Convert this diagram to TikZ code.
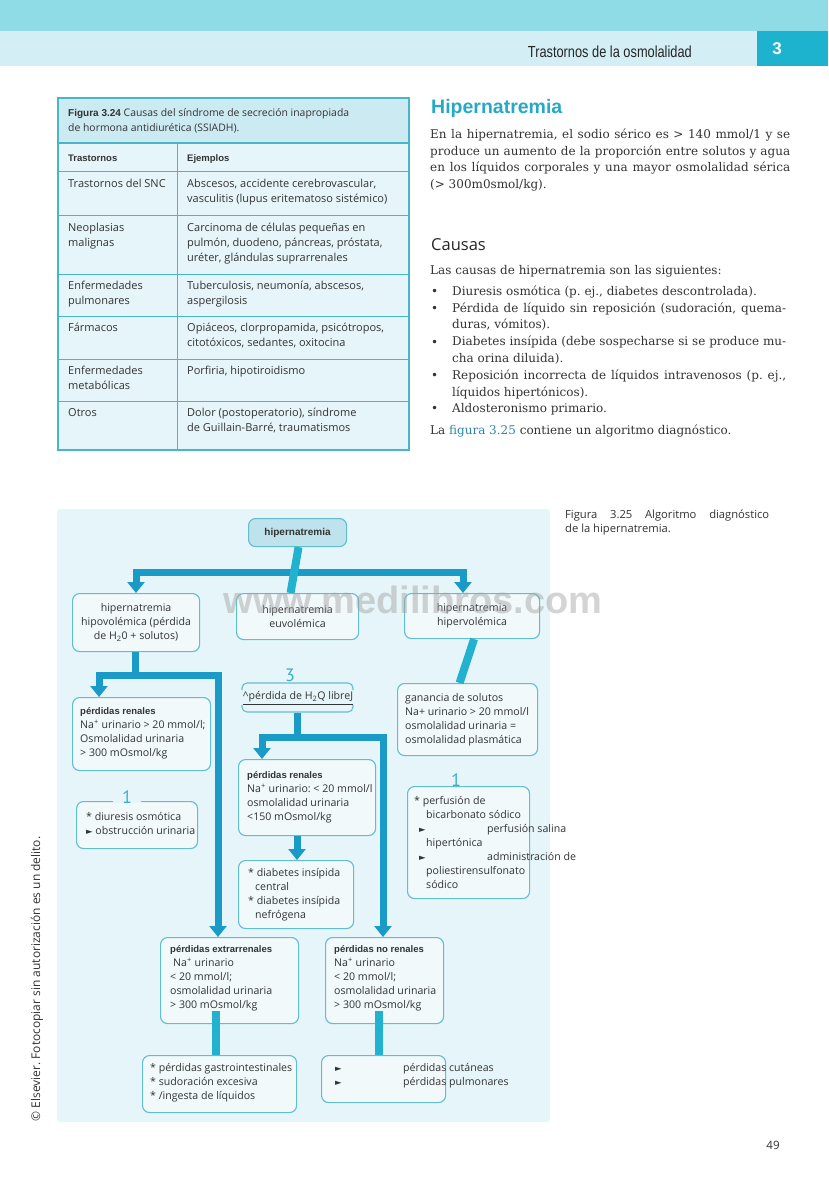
\documentclass[tikz,border=0pt]{standalone}
\usepackage{fontspec}
\setmainfont{DejaVu Serif}
\newfontfamily\pts{PT Sans}
\newfontfamily\ops{Open Sans}
\newfontfamily\lib{Liberation Sans}
\newfontfamily\dvs{DejaVu Sans}
\usetikzlibrary{arrows.meta}
\definecolor{hdrA}{HTML}{8FDCE6}
\definecolor{hdrB}{HTML}{D3EFF5}
\definecolor{hdrC}{HTML}{1DB2CD}
\definecolor{tblb}{HTML}{48B6CA}
\definecolor{tblf}{HTML}{E6F5F9}
\definecolor{tblcap}{HTML}{CCEAF1}
\definecolor{headc}{HTML}{27A9C6}
\definecolor{flowbg}{HTML}{E6F5F9}
\definecolor{boxc}{HTML}{62BECF}
\definecolor{boxf}{HTML}{F1F9FB}
\definecolor{hnf}{HTML}{BEE3ED}
\definecolor{arrc}{HTML}{1A9AC6}
\definecolor{barc}{HTML}{22B2CF}
\definecolor{numc}{HTML}{3AAFCB}
\definecolor{txtc}{HTML}{333333}
\definecolor{wmc}{HTML}{A0A0A0}
\definecolor{linkc}{HTML}{2E86A8}
\newcommand\arw{{\dvs\fontsize{8.5}{8}\selectfont ►}}
\newcommand\Na{Na\textsuperscript{+}}
\newcommand\lb{\lib\bfseries\fontsize{9.5}{14}\selectfont}
\frenchspacing
\begin{document}
\begin{tikzpicture}[x=1pt,y=-1pt,
  txt/.style={anchor=north west, inner sep=0pt, align=left, text=txtc},
  tblt/.style={txt, font=\ops\fontsize{11}{15}\selectfont},
  tblh/.style={txt, font=\lib\bfseries\fontsize{9.5}{15}\selectfont},
  body/.style={txt, font=\fontsize{12}{16.8}\selectfont, align=justify},
  ft/.style={txt, font=\ops\fontsize{10.6}{14}\selectfont},
  fbox/.style={draw=boxc, fill=boxf, line width=1.1pt, rounded corners=7pt, inner sep=0pt, anchor=north west, text=txtc, font=\ops\fontsize{10.6}{14}\selectfont, align=center},
  num/.style={font=\pts\fontsize{18}{18}\selectfont, text=numc, fill=flowbg, inner xsep=9pt, inner ysep=0pt},
  arr/.style={draw=arrc, line width=7pt, line join=miter, -{Triangle[width=17pt,length=11pt]}},
  arr2/.style={draw=arrc, line width=7pt, line join=miter, {Triangle[width=17pt,length=11pt]}-{Triangle[width=17pt,length=11pt]}},
  bar/.style={draw=arrc, line width=7pt, line join=miter},
  sbar/.style={draw=barc, line width=8pt},
  bline/.style={draw=boxc, line width=1.1pt, rounded corners=5pt}
]
\useasboundingbox (0,0) rectangle (828,1198);
\fill[white] (0,0) rectangle (828,1198);
% header
\fill[hdrA] (0,0) rectangle (828,31);
\fill[hdrB] (0,31) rectangle (828,66);
\fill[hdrC] (757,31) rectangle (828,66);
\node[anchor=base east, inner sep=0pt, font=\lib\fontsize{16}{18}\selectfont, text=black!85] (runhead) at (692,58) {\scalebox{0.8}[1]{Trastornos de la osmolalidad}};
\node[font=\lib\bfseries\fontsize{17}{20}\selectfont, text=white] (chapno) at (777,49) {3};
% table
\fill[tblf] (58,98) rectangle (409,450);
\fill[tblcap] (58,98) rectangle (409,143);
\foreach \yy in {172,216,274,316,359,401} \draw[tblb, line width=1pt] (58,\yy) -- (409,\yy);
\draw[tblb, line width=1.6pt] (58,143) -- (409,143);
\draw[tblb, line width=1pt] (177,143) -- (177,450);
\draw[tblb, line width=1.8pt] (58,98) rectangle (409,450);
\node[tblt, font=\ops\fontsize{10.4}{15}\selectfont] (cap324) at (68,106.3) {\strut{\lib\bfseries\fontsize{10}{15}\selectfont Figura 3.24} Causas del síndrome de secreción inapropiada\\de hormona antidiurética (SSIADH).};
\node[tblh] (th1) at (68,151) {\strut Trastornos};
\node[tblh] (th2) at (187,151) {\strut Ejemplos};
\node[tblt] (r1a) at (68,177.3) {\strut Trastornos del SNC};
\node[tblt] (r1b) at (187,177.3) {\strut Abscesos, accidente cerebrovascular,\\vasculitis (lupus eritematoso sistémico)};
\node[tblt] (r2a) at (68,221.3) {\strut Neoplasias\\malignas};
\node[tblt] (r2b) at (187,221.3) {\strut Carcinoma de células pequeñas en\\pulmón, duodeno, páncreas, próstata,\\uréter, glándulas suprarrenales};
\node[tblt] (r3a) at (68,278.3) {\strut Enfermedades\\pulmonares};
\node[tblt] (r3b) at (187,278.3) {\strut Tuberculosis, neumonía, abscesos,\\aspergilosis};
\node[tblt] (r4a) at (68,320.3) {\strut Fármacos};
\node[tblt] (r4b) at (187,320.3) {\strut Opiáceos, clorpropamida, psicótropos,\\citotóxicos, sedantes, oxitocina};
\node[tblt] (r5a) at (68,363.3) {\strut Enfermedades\\metabólicas};
\node[tblt] (r5b) at (187,363.3) {\strut Porfiria, hipotiroidismo};
\node[tblt] (r6a) at (68,405.3) {\strut Otros};
\node[tblt] (r6b) at (187,405.3) {\strut Dolor (postoperatorio), síndrome\\de Guillain-Barré, traumatismos};
% right column
\node[anchor=base west, inner sep=0pt, font=\lib\bfseries\fontsize{19.5}{22}\selectfont, text=headc] (hhead) at (431,114) {Hipernatremia};
\node[body, text width=360pt] (p1) at (430,126.3) {\strut En la hipernatremia, el sodio sérico es > 140 mmol/1 y se\linebreak produce un aumento de la proporción entre solutos y agua\linebreak en los líquidos corporales y una mayor osmolalidad sérica\linebreak (> 300m0smol/kg).};
\node[anchor=base west, inner sep=0pt, font=\ops\fontsize{16.5}{18}\selectfont, text=black!85] (causas) at (431,251) {Causas};
\node[body] (p2) at (430,262.3) {\strut Las causas de hipernatremia son las siguientes:};
\node[body, text width=334pt] (blist) at (452,283.3) {\strut Diuresis osmótica (p. ej., diabetes descontrolada).\\
Pérdida de líquido sin reposición (sudoración, quema-\linebreak duras, vómitos).\\
Diabetes insípida (debe sospecharse si se produce mu-\linebreak cha orina diluida).\\
Reposición incorrecta de líquidos intravenosos (p. ej.,\linebreak líquidos hipertónicos).\\
Aldosteronismo primario.};
\foreach \yy/\nm in {292/b1,309/b2,343/b3,376/b4,409/b5}
  \node[anchor=base west, inner sep=0pt, font=\fontsize{12}{16.8}\selectfont, text=txtc] (\nm) at (431,\yy+3.1) {•};
\node[body] (p3) at (430,422.3) {\strut La {\color{linkc}figura 3.25} contiene un algoritmo diagnóstico.};
% figure caption
\node[txt, font=\ops\fontsize{11.2}{14}\selectfont] (cap325) at (565,508.9) {\strut\hbox to 204pt{Figura\hfill 3.25\hfill Algoritmo\hfill diagnóstico}\\de la hipernatremia.};
% copyright
\node[rotate=90, inner sep=0pt, font=\ops\fontsize{12}{12}\selectfont, text=txtc] (copy) at (37,979) {© Elsevier. Fotocopiar sin autorización es un delito.};
\node[inner sep=0pt, font=\ops\fontsize{11.5}{12}\selectfont, text=txtc] (pageno) at (773,1145) {49};
% flowchart background
\fill[flowbg, rounded corners=3pt] (57,509) rectangle (550,1122);
% boxes
\node[fbox, fill=hnf, minimum width=98pt, minimum height=28pt, font=\lib\bfseries\fontsize{10}{12}\selectfont] (hn) at (248,518) {hipernatremia};
\node[fbox, minimum width=127pt, minimum height=58pt] (hipo) at (72,593) {hipernatremia\\hipovolémica (pérdida\\de H\textsubscript{2}0 + solutos)};
\node[fbox, minimum width=122pt, minimum height=46pt] (euv) at (236,593) {hipernatremia\\euvolémica};
\node[fbox, minimum width=135pt, minimum height=45pt] (hyper) at (404,593) {hipernatremia\\hipervolémica};
\node[fbox, minimum width=138pt, minimum height=73pt] (prL) at (72,697) {};
\node[fbox, minimum width=121pt, minimum height=47pt] (dL) at (76,801) {};
\node[fbox, draw=none, fill=none, minimum width=111pt, minimum height=29pt] (b3) at (242,683) {\underline{\textasciicircum pérdida de H\textsubscript{2}Q libreJ}};
\draw[bline] (242,690) -- (242,683) -- (353,683) -- (353,690);
\draw[bline] (242,705) -- (242,712) -- (353,712) -- (353,705);
\node[fbox, minimum width=137pt, minimum height=76pt] (prC) at (238,759) {};
\node[fbox, minimum width=115pt, minimum height=68pt] (diab) at (238,860) {};
\node[fbox, minimum width=140pt, minimum height=72pt] (gan) at (397,683) {};
\node[fbox, minimum width=122pt, minimum height=112pt] (perf) at (407,786) {};
\node[fbox, minimum width=138pt, minimum height=86pt] (pext) at (160,937) {};
\node[fbox, minimum width=118pt, minimum height=86pt] (pnr) at (325,937) {};
\node[fbox, minimum width=154pt, minimum height=57pt] (bL) at (142,1055) {};
\node[fbox, minimum width=124pt, minimum height=47pt] (bR) at (321,1055) {};
% numbers
\node[num] (n3) at (290,675) {3};
\node[num] (n1L) at (127,797) {1};
\node[num] (n1R) at (456,780) {1};
% box texts
\node[ft] (tprL) at (80,704.9) {\strut{\lb pérdidas renales}\\\Na{} urinario > 20 mmol/l;\\Osmolalidad urinaria\\> 300 mOsmol/kg};
\node[ft] (tdL) at (86,810.9) {\strut * diuresis osmótica\\\arw{} obstrucción urinaria};
\node[ft] (tprC) at (247,768.9) {\strut{\lb pérdidas renales}\\\Na{} urinario: < 20 mmol/l\\osmolalidad urinaria\\<150 mOsmol/kg};
\node[ft] (tdiab) at (248,866.9) {\strut * diabetes insípida\\\hspace*{7pt}central\\* diabetes insípida\\\hspace*{7pt}nefrógena};
\node[ft] (tgan) at (405,691.9) {\strut ganancia de solutos\\Na+ urinario > 20 mmol/l\\osmolalidad urinaria =\\osmolalidad plasmática};
\node[ft] (tperf) at (414,794.9) {\strut * perfusión de\\\hspace*{12pt}bicarbonato sódico\\\makebox[73pt][l]{\hspace*{5pt}\arw}perfusión salina\\\hspace*{12pt}hipertónica\\\makebox[73pt][l]{\hspace*{5pt}\arw}administración de\\\hspace*{12pt}poliestirensulfonato\\\hspace*{12pt}sódico};
\node[ft] (tpext) at (170,942.9) {\strut{\lb pérdidas extrarrenales}\\\hspace*{3pt}\Na{} urinario\\< 20 mmol/l;\\osmolalidad urinaria\\> 300 mOsmol/kg};
\node[ft] (tpnr) at (334,942.9) {\strut{\lb pérdidas no renales}\\\Na{} urinario\\< 20 mmol/l;\\osmolalidad urinaria\\> 300 mOsmol/kg};
\node[ft] (tbL) at (150,1061.9) {\strut * pérdidas gastrointestinales\\* sudoración excesiva\\* /ingesta de líquidos};
\node[ft] (tbR) at (335,1061.9) {\strut\makebox[68pt][l]{\arw}pérdidas cutáneas\\\makebox[68pt][l]{\arw}pérdidas pulmonares};
% connectors
\coordinate (jL) at (136,572);
\coordinate (jR) at (463,572);
\draw[arr2] (jL |- hipo.north) -- (jL) -- (jR) -- (jR |- hyper.north);
\draw[sbar] ([xshift=1pt]hn.south) -- ([xshift=-7pt]euv.north);
\coordinate (h1) at (135.5,675);
\coordinate (h1L) at (99,675);
\coordinate (h1R) at (218,675);
\draw[bar] (hipo.south -| h1) -- (h1);
\draw[arr2] (h1L |- prL.north) -- (h1L) -- (h1R) -- (h1R |- pext.north);
\coordinate (c1) at (297,737);
\coordinate (c1L) at (262,737);
\coordinate (c1R) at (383,737);
\draw[bar] (b3.south -| c1) -- (c1);
\draw[arr2] (c1L |- prC.north) -- (c1L) -- (c1R) -- (c1R |- pnr.north);
\coordinate (c2) at (297,800);
\draw[arr] (prC.south -| c2) -- (c2 |- diab.north);
\draw[sbar] ([xshift=2pt]hyper.south) -- ([xshift=-8pt]gan.north);
\coordinate (e1) at (216,1000);
\coordinate (e2) at (379,1000);
\draw[sbar] ([yshift=13pt]pext.south -| e1) -- (e1 |- bL.north);
\draw[sbar] ([yshift=13pt]pnr.south -| e2) -- (e2 |- bR.north);
% watermark
\node[font=\lib\bfseries\fontsize{38}{40}\selectfont, text=wmc, opacity=0.45] (wm) at (413,600) {www.medilibros.com};
\end{tikzpicture}
\end{document}
